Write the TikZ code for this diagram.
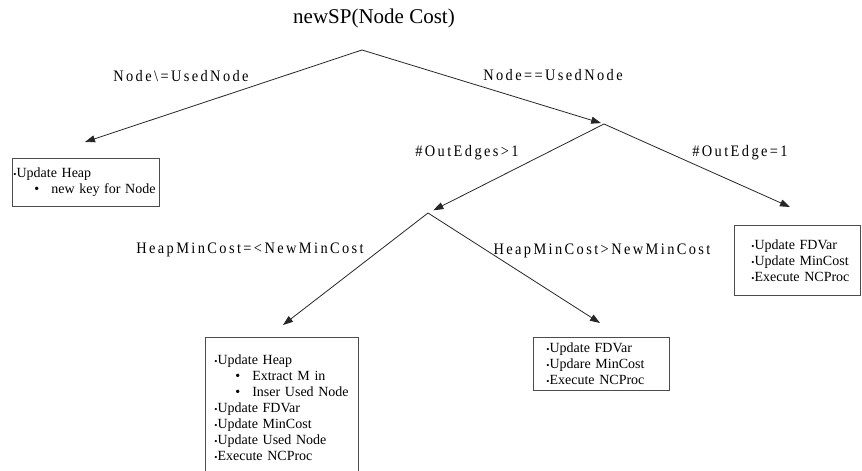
\documentclass[tikz,border=0pt]{standalone}
\usepackage{fontspec}
\setmainfont{Liberation Serif}
\newfontfamily\condfont[FakeStretch=0.9,LetterSpace=15]{Liberation Serif}
\usetikzlibrary{arrows.meta}

\newlength{\boxpad}
\newcommand{\bul}{\hspace*{\boxpad}{\fontsize{9}{9}\selectfont •}}
\newcommand{\subbul}{\hspace*{\boxpad}\hspace*{21pt}•\hspace*{12pt}}

\begin{document}
\begin{tikzpicture}[x=1pt,y=-1pt,
  arr/.style={draw=black!85,line width=0.8pt,-{Triangle[length=10pt,width=7pt]}},
  cond/.style={font=\condfont\fontsize{16}{18}\selectfont},
  box/.style={draw=black!70,line width=0.8pt,anchor=north west,align=left,
    inner xsep=0pt,font=\fontsize{14}{16}\selectfont,
    execute at begin node={\setlength{\boxpad}{#1}}}]
\useasboundingbox (0,0) rectangle (862,471);

\node (title) at (374,18) {\fontsize{21}{24}\selectfont newSP(Node Cost)};

% branch points
\coordinate (root) at (362,50);
\coordinate (eqsplit) at (604,124);
\coordinate (multisplit) at (428,213);

% result boxes
\node[box=1pt,text width=147pt,minimum height=48pt] (heapbox) at (12,158)
  {\bul Update Heap\\ \subbul new key for Node};
\node[box=17pt,text width=126pt,minimum height=70pt] (fdbox) at (734,225)
  {\bul Update FDVar\\ \bul Update MinCost\\ \bul Execute NCProc};
\node[box=13pt,text width=136pt,minimum height=53pt] (midbox) at (533,337)
  {\bul Update FDVar\\ \bul Updare MinCost\\ \bul Execute NCProc};
\node[box=9pt,text width=153pt,minimum height=140pt] (bigbox) at (205,337)
  {\bul Update Heap\\ \subbul Extract M in\\ \subbul Inser Used Node\\
   \bul Update FDVar\\ \bul Update MinCost\\ \bul Update Used Node\\ \bul Execute NCProc\par\vspace*{18pt}};

% arrow ends
\coordinate (heaptip) at (85,142);
\coordinate (fdtip) at (790,207);
\coordinate (bigtip) at (283,325);
\coordinate (midtip) at (600,323);

% Node vs UsedNode
\draw[arr] (root) -- (heaptip);
\draw[arr,shorten >=3pt] (root) -- (eqsplit);
\node[cond] (neq) at (181,76) {Node\textbackslash=UsedNode};
\node[cond] (eq) at (553,75) {Node==UsedNode};

% out edges
\draw[arr,shorten >=6pt] (eqsplit) -- (multisplit);
\draw[arr] (eqsplit) -- (fdtip);
\node[cond] (multi) at (467,153) {\#OutEdges>1};
\node[cond] (single) at (740,153) {\#OutEdge=1};

% heap min cost
\draw[arr] (multisplit) -- (bigtip);
\draw[arr] (multisplit) -- (midtip);
\node[cond] (le) at (250,250) {HeapMinCost=<NewMinCost};
\node[cond] (gt) at (602,251) {HeapMinCost>NewMinCost};

\end{tikzpicture}
\end{document}
